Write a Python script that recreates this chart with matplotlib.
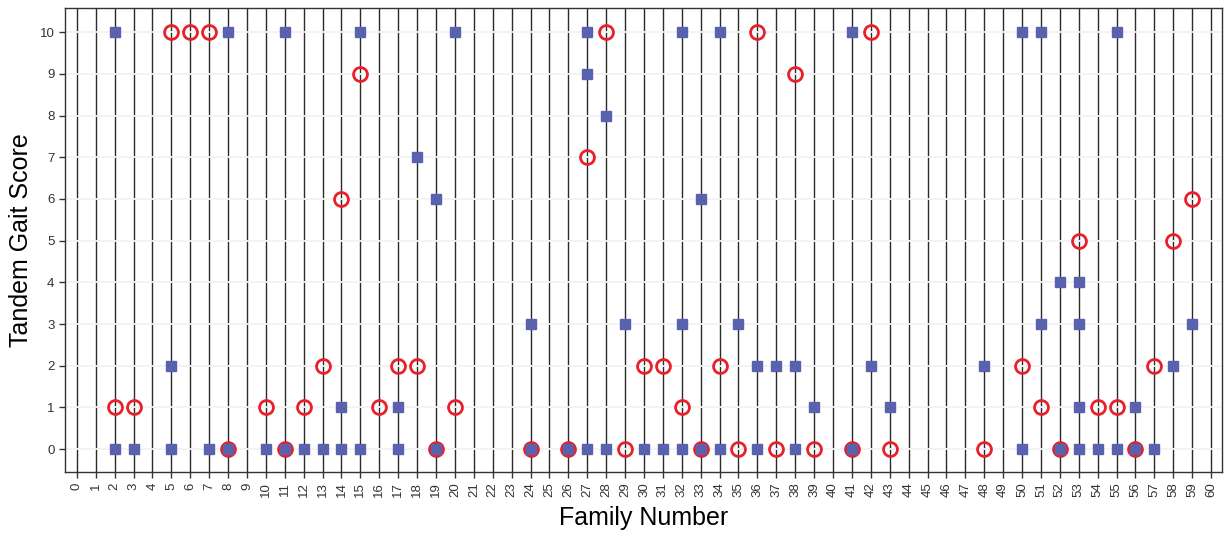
import matplotlib
matplotlib.use("Agg")
import matplotlib.pyplot as plt

plt.rcParams['font.family'] = ['Liberation Sans', 'DejaVu Sans']

# Blue squares: (family, score)
sq_family = [2, 2, 3, 5, 5, 7, 8, 8, 10, 11, 11, 12, 13, 14, 14, 15, 15, 17, 17, 18,
             19, 19, 20, 24, 24, 26, 27, 27, 27, 28, 28, 29, 30, 31, 32, 32, 32, 33, 33,
             34, 34, 35, 36, 36, 37, 38, 38, 39, 41, 41, 42, 43, 48, 50, 50, 51, 51,
             52, 52, 53, 53, 53, 53, 54, 55, 55, 56, 56, 57, 58, 59]
sq_score = [10, 0, 0, 2, 0, 0, 10, 0, 0, 10, 0, 0, 0, 1, 0, 10, 0, 1, 0, 7,
            6, 0, 10, 3, 0, 0, 10, 9, 0, 8, 0, 3, 0, 0, 10, 3, 0, 6, 0,
            10, 0, 3, 2, 0, 2, 2, 0, 1, 10, 0, 2, 1, 2, 10, 0, 10, 3,
            4, 0, 4, 3, 1, 0, 0, 10, 0, 1, 0, 0, 2, 3]

# Red open circles: (family, score)
ci_family = [2, 3, 5, 6, 7, 8, 10, 11, 12, 13, 14, 15, 16, 17, 18, 19, 20, 24, 26, 27,
             28, 29, 30, 31, 32, 33, 34, 35, 36, 37, 38, 39, 41, 42, 43, 48, 50, 51, 52,
             53, 54, 55, 56, 57, 58, 59]
ci_score = [1, 1, 10, 10, 10, 0, 1, 0, 1, 2, 6, 9, 1, 2, 2, 0, 1, 0, 0, 7,
            10, 0, 2, 2, 1, 0, 2, 0, 10, 0, 9, 0, 0, 10, 0, 0, 2, 1, 0,
            5, 1, 1, 0, 2, 5, 6]

x_ticks = list(range(0, 61))
y_ticks = list(range(0, 11))

fig = plt.figure(figsize=(12.25, 5.33), dpi=100)
ax = fig.add_axes([0.053, 0.1144, 0.9446, 0.8706])

for xv in x_ticks:
    ax.axvline(xv, color='#2a2a2a', lw=1.0, zorder=1)
for yv in y_ticks:
    ax.axhline(yv, color='#f2f2f2', lw=1.3, zorder=2)

ax.plot(ci_family, ci_score, linestyle='none', marker='o', markersize=10,
        markerfacecolor='none', markeredgecolor='#e8202a', markeredgewidth=2.0, zorder=3)
ax.plot(sq_family, sq_score, linestyle='none', marker='s', markersize=7.5,
        markerfacecolor='#5a62b0', markeredgecolor='#5a62b0', zorder=4)

ax.set_xlim(-0.63, 60.58)
ax.set_ylim(-0.55, 10.58)
ax.set_xticks(x_ticks)
ax.set_xticklabels([str(v) for v in x_ticks], rotation=90, fontsize=9.5, color='#333333')
ax.set_yticks(y_ticks)
ax.set_yticklabels([str(v) for v in y_ticks], fontsize=9.5, color='#333333')
ax.tick_params(axis='both', direction='out', length=4, width=1, color='#333333')

for s in ax.spines.values():
    s.set_color('#333333')
    s.set_linewidth(1.0)

ax.set_xlabel('Family Number', fontsize=18, labelpad=6)
ax.set_ylabel('Tandem Gait Score', fontsize=18, labelpad=5)

fig.savefig('out.png', dpi=100)
